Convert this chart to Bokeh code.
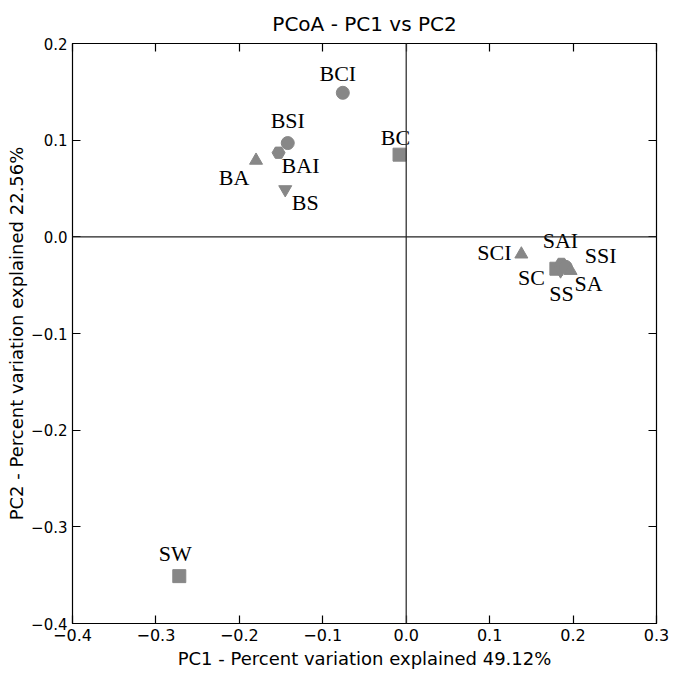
from bokeh.plotting import figure
from bokeh.models import (ColumnDataSource, Span, LinearAxis, FixedTicker,
                          CustomJSTickFormatter, Range1d)
from bokeh.core.properties import value
from bokeh.embed import file_html
from bokeh.resources import INLINE

# ---- data ----
names = ["BCI", "BSI", "BAI", "BA", "BS", "BC",
         "SCI", "SC", "SAI", "SS", "SSI", "SA", "SW"]
pc1 = [-0.076, -0.142, -0.153, -0.180, -0.145, -0.008,
       0.138, 0.180, 0.186, 0.185, 0.191, 0.197, -0.272]
pc2 = [0.149, 0.097, 0.087, 0.079, 0.049, 0.085,
       -0.018, -0.033, -0.028, -0.035, -0.031, -0.035, -0.351]
markers = ["circle", "circle", "hex", "triangle", "inverted_triangle", "square",
           "triangle", "square", "hex", "inverted_triangle", "circle", "triangle", "square"]
label_dx = [-5, 0, 22, -22, 20, -4, -27, -25, -1, 1, 35, 18, -4]
label_dy = [-19, -23, 13, 17, 13, -17, -2, 9, -23, 23, -11, 13, -23]

x_ticks = [-0.4, -0.3, -0.2, -0.1, 0.0, 0.1, 0.2, 0.3]
y_ticks = [-0.4, -0.3, -0.2, -0.1, 0.0, 0.1, 0.2]

title = "PCoA - PC1 vs PC2"
x_label = "PC1 - Percent variation explained 49.12%"
y_label = "PC2 - Percent variation explained 22.56%"

src = ColumnDataSource(dict(name=names, x=pc1, y=pc2, marker=markers,
                            dx=label_dx, dy=label_dy))

p = figure(width=674, height=673,
           x_range=Range1d(-0.4, 0.3), y_range=Range1d(-0.4, 0.2),
           output_backend="svg", toolbar_location=None, title=title,
           min_border_left=72, min_border_right=18,
           min_border_top=43, min_border_bottom=50)

p.xgrid.visible = False
p.ygrid.visible = False
p.outline_line_color = "black"
p.outline_line_width = 1.2
p.background_fill_color = "white"
p.border_fill_color = "white"

p.title.text_font = "DejaVu Sans"
p.title.text_font_size = "20px"
p.title.text_font_style = "normal"
p.title.align = "center"
p.title.text_color = "black"
p.title.standoff = 15

fmt = CustomJSTickFormatter(code="return (tick < -1e-9 ? '\\u2212' : '') + Math.abs(tick).toFixed(1);")

def style_axis(ax, ticks, labels=True, tick_size="16px"):
    ax.ticker = FixedTicker(ticks=ticks)
    ax.major_tick_in = 8
    ax.major_tick_out = 0
    ax.minor_tick_line_color = None
    ax.axis_line_color = "black"
    ax.major_tick_line_color = "black"
    ax.major_tick_line_width = 1.2
    if labels:
        ax.formatter = fmt
        ax.major_label_text_font = "DejaVu Sans"
        ax.major_label_text_font_size = tick_size
        ax.major_label_text_color = "black"
        ax.axis_label_text_font = "DejaVu Sans"
        ax.axis_label_text_font_size = "18px"
        ax.axis_label_text_font_style = "normal"
        ax.axis_label_text_color = "black"
    else:
        ax.major_label_text_color = None
        ax.major_label_text_font_size = "1px"
        ax.major_label_standoff = 0

style_axis(p.xaxis[0], x_ticks, tick_size="16px")
style_axis(p.yaxis[0], y_ticks, tick_size="15px")
p.xaxis[0].axis_label = x_label
p.yaxis[0].axis_label = y_label
p.xaxis[0].major_label_standoff = 5
p.xaxis[0].axis_label_standoff = 4
p.yaxis[0].major_label_standoff = 5
p.yaxis[0].axis_label_standoff = 1

top = LinearAxis()
style_axis(top, x_ticks, labels=False)
p.add_layout(top, "above")
right = LinearAxis()
style_axis(right, y_ticks, labels=False)
p.add_layout(right, "right")

p.add_layout(Span(location=0, dimension="height", line_color="#333333", line_width=1.3))
p.add_layout(Span(location=0, dimension="width", line_color="#222222", line_width=1.3))

p.scatter(x="x", y="y", marker="marker", source=src, size=13,
          fill_color="#878787", line_color="#878787")

p.text(x="x", y="y", text="name", source=src, x_offset="dx", y_offset="dy",
       text_align="center", text_baseline="middle",
       text_font=value("Liberation Serif"), text_font_size="22px",
       text_color="black")

open("out.html", "w").write(file_html(p, INLINE))
